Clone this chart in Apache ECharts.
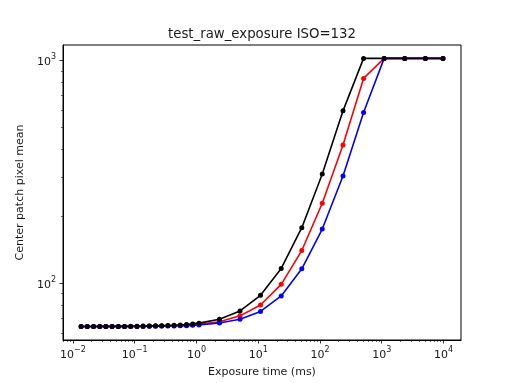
<!DOCTYPE html>
<html>
<head>
<meta charset="utf-8">
<script src="https://cdn.jsdelivr.net/npm/echarts@6/dist/echarts.min.js"></script>
<style>
html,body{margin:0;padding:0;background:#fff;}
#c{width:512px;height:383px;}
</style>
</head>
<body>
<div id="c"></div>
<script>
// Exposure times (ms)
var exposureMs = [0.0136, 0.0171, 0.0216, 0.0272, 0.0342, 0.0431, 0.0544, 0.0685, 0.0863, 0.109,
  0.137, 0.173, 0.218, 0.274, 0.345, 0.435, 0.548, 0.691, 0.870, 1.10,
  2.36, 5.08, 10.9, 23.6, 50.8, 109, 236, 508, 1094, 2357, 5078, 9800];
// Center patch pixel means
var blackMeans = [64.0, 64.0, 64.0, 64.1, 64.1, 64.1, 64.1, 64.1, 64.2, 64.2,
  64.3, 64.4, 64.5, 64.6, 64.7, 64.9, 65.1, 65.4, 65.8, 66.3,
  69.0, 75.2, 88.4, 116.7, 177.8, 309.7, 595, 1023, 1023, 1023, 1023, 1023];
var redMeans = [64.0, 64.0, 64.0, 64.0, 64.1, 64.1, 64.1, 64.1, 64.1, 64.1,
  64.2, 64.3, 64.3, 64.4, 64.5, 64.6, 64.7, 64.9, 65.2, 65.5,
  67.2, 71.5, 80.0, 99.0, 140.4, 229, 418, 832, 1023, 1023, 1023, 1023];
var blueMeans = [64.0, 64.0, 64.0, 64.0, 64.0, 64.1, 64.1, 64.1, 64.1, 64.1,
  64.1, 64.2, 64.2, 64.3, 64.3, 64.4, 64.5, 64.6, 64.8, 65.0,
  66.4, 69.0, 74.8, 87.8, 116.3, 175.4, 303.5, 584.6, 1023, 1023, 1023, 1023];
// Tick labels
var xMajorTicks = [0.01, 0.1, 1, 10, 100, 1000, 10000];
var yMajorTicks = [100, 1000];
var titleText = 'test_raw_exposure ISO=132';
var xName = 'Exposure time (ms)';
var yName = 'Center patch pixel mean';

var X_MIN = 0.00692, X_MAX = 19190, Y_MIN = 55.7, Y_MAX = 1175;
function minors(lo, hi) {
  var out = [];
  for (var e = -3; e <= 5; e++) {
    for (var m = 2; m <= 9; m++) {
      var v = m * Math.pow(10, e);
      if (v >= lo && v <= hi) out.push(v);
    }
  }
  return out;
}
var xMinorTicks = minors(X_MIN, X_MAX);
var yMinorTicks = minors(Y_MIN, Y_MAX);

function pair(xs, ys) { return xs.map(function (x, i) { return [x, ys[i]]; }); }
var FONT = 'DejaVu Sans';
var TXT = '#1a1a1a';
function powLabel(v) {
  var e = Math.round(Math.log10(v));
  return '{b|10}{s|' + (e < 0 ? '\u2212' + (-e) : String(e)) + '}';
}
var rich = {
  b: { fontSize: 11, fontFamily: FONT, color: TXT, lineHeight: 15, verticalAlign: 'bottom' },
  s: { fontSize: 8, fontFamily: FONT, color: TXT, lineHeight: 9, verticalAlign: 'top' }
};
var grid = { left: 63, right: 51, top: 45, bottom: 41, show: true, borderColor: '#000', borderWidth: 1, backgroundColor: 'transparent' };

function mkSeries(name, ys, color) {
  return {
    name: name, type: 'line', data: pair(exposureMs, ys),
    xAxisIndex: 0, yAxisIndex: 0,
    symbol: 'circle', symbolSize: 5, showSymbol: true,
    lineStyle: { color: color, width: 1.6 },
    itemStyle: { color: color, borderWidth: 0 },
    emphasis: { disabled: true }, animation: false
  };
}

var chart = echarts.init(document.getElementById('c'), null, { renderer: 'canvas' });
chart.setOption({
  backgroundColor: '#fff',
  animation: false,
  title: {
    text: titleText, left: 257, top: 23, textAlign: 'center',
    textStyle: { fontFamily: FONT, fontSize: 13.3, fontWeight: 'normal', color: TXT }
  },
  grid: grid,
  xAxis: [{
    type: 'log', logBase: 10, min: X_MIN, max: X_MAX, position: 'bottom',
    name: xName, nameLocation: 'middle', nameGap: 27,
    nameTextStyle: { fontFamily: FONT, fontSize: 11, color: TXT },
    axisLine: { show: true, lineStyle: { color: '#000', width: 1 } },
    axisTick: { show: true, inside: false, length: 3.5, customValues: xMajorTicks, lineStyle: { color: '#000', width: 0.8 } },
    axisLabel: { show: true, customValues: xMajorTicks, margin: 6, formatter: powLabel, rich: rich },
    splitLine: { show: false }
  }, {
    type: 'log', logBase: 10, min: X_MIN, max: X_MAX, position: 'bottom', gridIndex: 0,
    axisLine: { show: false },
    axisTick: { show: true, inside: false, length: 2, customValues: xMinorTicks, lineStyle: { color: '#000', width: 0.6 } },
    axisLabel: { show: false },
    splitLine: { show: false }
  }],
  yAxis: [{
    type: 'log', logBase: 10, min: Y_MIN, max: Y_MAX, position: 'left',
    name: yName, nameLocation: 'middle', nameGap: 33,
    nameTextStyle: { fontFamily: FONT, fontSize: 11, color: TXT },
    axisLine: { show: true, lineStyle: { color: '#000', width: 1 } },
    axisTick: { show: true, inside: false, length: 3.5, customValues: yMajorTicks, lineStyle: { color: '#000', width: 0.8 } },
    axisLabel: { show: true, customValues: yMajorTicks, margin: 7, formatter: powLabel, rich: rich },
    splitLine: { show: false }
  }, {
    type: 'log', logBase: 10, min: Y_MIN, max: Y_MAX, position: 'left', gridIndex: 0,
    axisLine: { show: false },
    axisTick: { show: true, inside: false, length: 2, customValues: yMinorTicks, lineStyle: { color: '#000', width: 0.6 } },
    axisLabel: { show: false },
    splitLine: { show: false }
  }],
  series: [
    mkSeries('R', redMeans, '#ff0000'),
    mkSeries('B', blueMeans, '#0000ff'),
    mkSeries('G', blackMeans, '#000000')
  ]
});
</script>
</body>
</html>
